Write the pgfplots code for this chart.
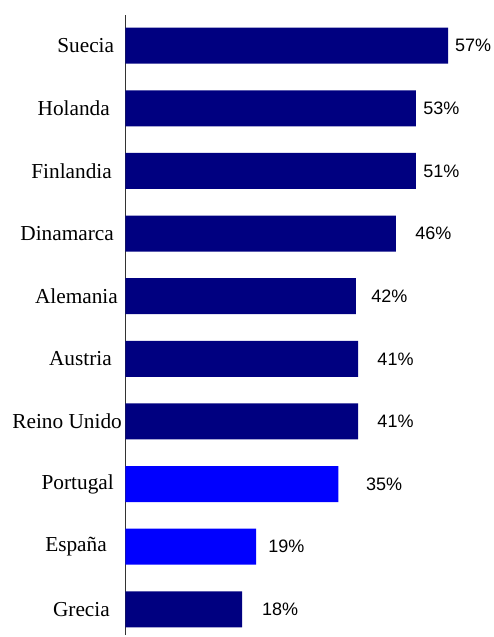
\documentclass[border=0pt]{standalone}
\usepackage{pgfplots}
\usepackage{pgfplotstable}
\pgfplotsset{compat=1.18}
\usepackage{fontspec}
\setmainfont{Liberation Serif}
\newfontfamily\arialf{Liberation Sans}
\definecolor{navybar}{HTML}{000080}
\definecolor{bluebar}{HTML}{0000FF}

% idx: 0 = Grecia (bottom) ... 9 = Suecia (top)
% len: bar length as drawn, lx: x of the value label, val: printed value
\pgfplotstableread{
idx len  lx   val
0   20.6 24.1 18
3   41.1 44.5 41
4   41.1 44.5 41
5   40.7 43.4 42
6   47.8 51.2 46
7   51.3 52.6 51
8   51.3 52.6 53
9   57.0 58.2 57
}\navydata
\pgfplotstableread{
idx len  lx   val
1   23.1 25.2 19
2   37.6 42.5 35
}\bluedata

\begin{document}
\begin{tikzpicture}
\useasboundingbox (0,0) rectangle (493pt,637pt);
\begin{axis}[
  at={(125.5pt,2pt)},
  anchor=south west,
  scale only axis,
  width=367.5pt,
  height=620pt,
  xmin=0, xmax=64.95,
  ymin=-0.41, ymax=9.49,
  axis x line=none,
  axis y line=left,
  y axis line style={-, line width=1.3pt, black!80},
  major tick length=0pt,
  ytick style={draw=none},
  ytick={0,...,9},
  yticklabels={Grecia\hspace*{15.5pt}, España\hspace*{18.5pt}, Portugal\hspace*{11.5pt}, Reino Unido\hspace*{3.5pt}, Austria\hspace*{13.5pt}, Alemania\hspace*{7.5pt}, Dinamarca\hspace*{11.5pt}, Finlandia\hspace*{13.5pt}, Holanda\hspace*{15.5pt}, Suecia\hspace*{11.2pt}},
  yticklabel style={inner sep=0pt, font=\fontsize{21.3}{24}\selectfont, text=black},
  /pgf/number format/assume math mode=true,
  clip=false,
]
\addplot[xbar, bar shift=0pt, bar width=36pt, fill=navybar, draw=none] table[x=len, y=idx] {\navydata};
\addplot[xbar, bar shift=0pt, bar width=36pt, fill=bluebar, draw=none] table[x=len, y=idx] {\bluedata};
\addplot[only marks, mark=none, point meta=explicit,
  nodes near coords={\pgfmathprintnumber{\pgfplotspointmeta}\%},
  nodes near coords style={anchor=west, inner sep=0pt, font=\arialf\fontsize{18}{20}\selectfont, text=black}]
  table[x=lx, y=idx, meta=val] {\navydata};
\addplot[only marks, mark=none, point meta=explicit,
  nodes near coords={\pgfmathprintnumber{\pgfplotspointmeta}\%},
  nodes near coords style={anchor=west, inner sep=0pt, font=\arialf\fontsize{18}{20}\selectfont, text=black}]
  table[x=lx, y=idx, meta=val] {\bluedata};
\end{axis}
\end{tikzpicture}
\end{document}
